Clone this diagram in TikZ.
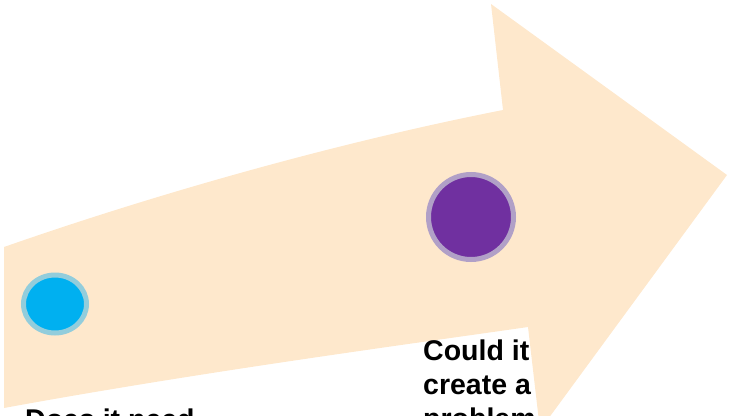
\documentclass[tikz,border=0pt]{standalone}
\usepackage{fontspec}
\setmainfont{Liberation Sans}
\definecolor{peach}{RGB}{254,232,204}
\definecolor{dotblue}{RGB}{0,176,240}
\definecolor{ringblue}{RGB}{146,205,220}
\definecolor{dotpurple}{RGB}{112,48,160}
\definecolor{ringpurple}{RGB}{177,160,199}
\begin{document}
\begin{tikzpicture}[x=1pt,y=-1pt,
  label/.style={inner sep=0pt, align=left, anchor=north west,
    font=\fontsize{28.5}{34}\selectfont\bfseries}]
\useasboundingbox (0,0) rectangle (730,415);
\clip (0,0) rectangle (730,415);
% arrow
\fill[peach] (4,247) .. controls (150,196) and (330,144) .. (503,110)
  -- (491,4) -- (727,175) -- (540,430) -- (528,327)
  .. controls (410,344) and (200,372) .. (4,408) -- cycle;
% dots
\draw[ringblue, fill=dotblue, line width=5pt] (55,304) ellipse [x radius=31.5, y radius=29];
\draw[ringpurple, fill=dotpurple, line width=5pt] (471,217) circle [radius=42.5];
\coordinate (blue) at (55,304);
\coordinate (purple) at (471,217);
% texts
\node[label] (q2) at (423,340) {Could it\\create a\\problem};
\node[label] (q1) at (25,409) {Does it need};
\end{tikzpicture}
\end{document}
